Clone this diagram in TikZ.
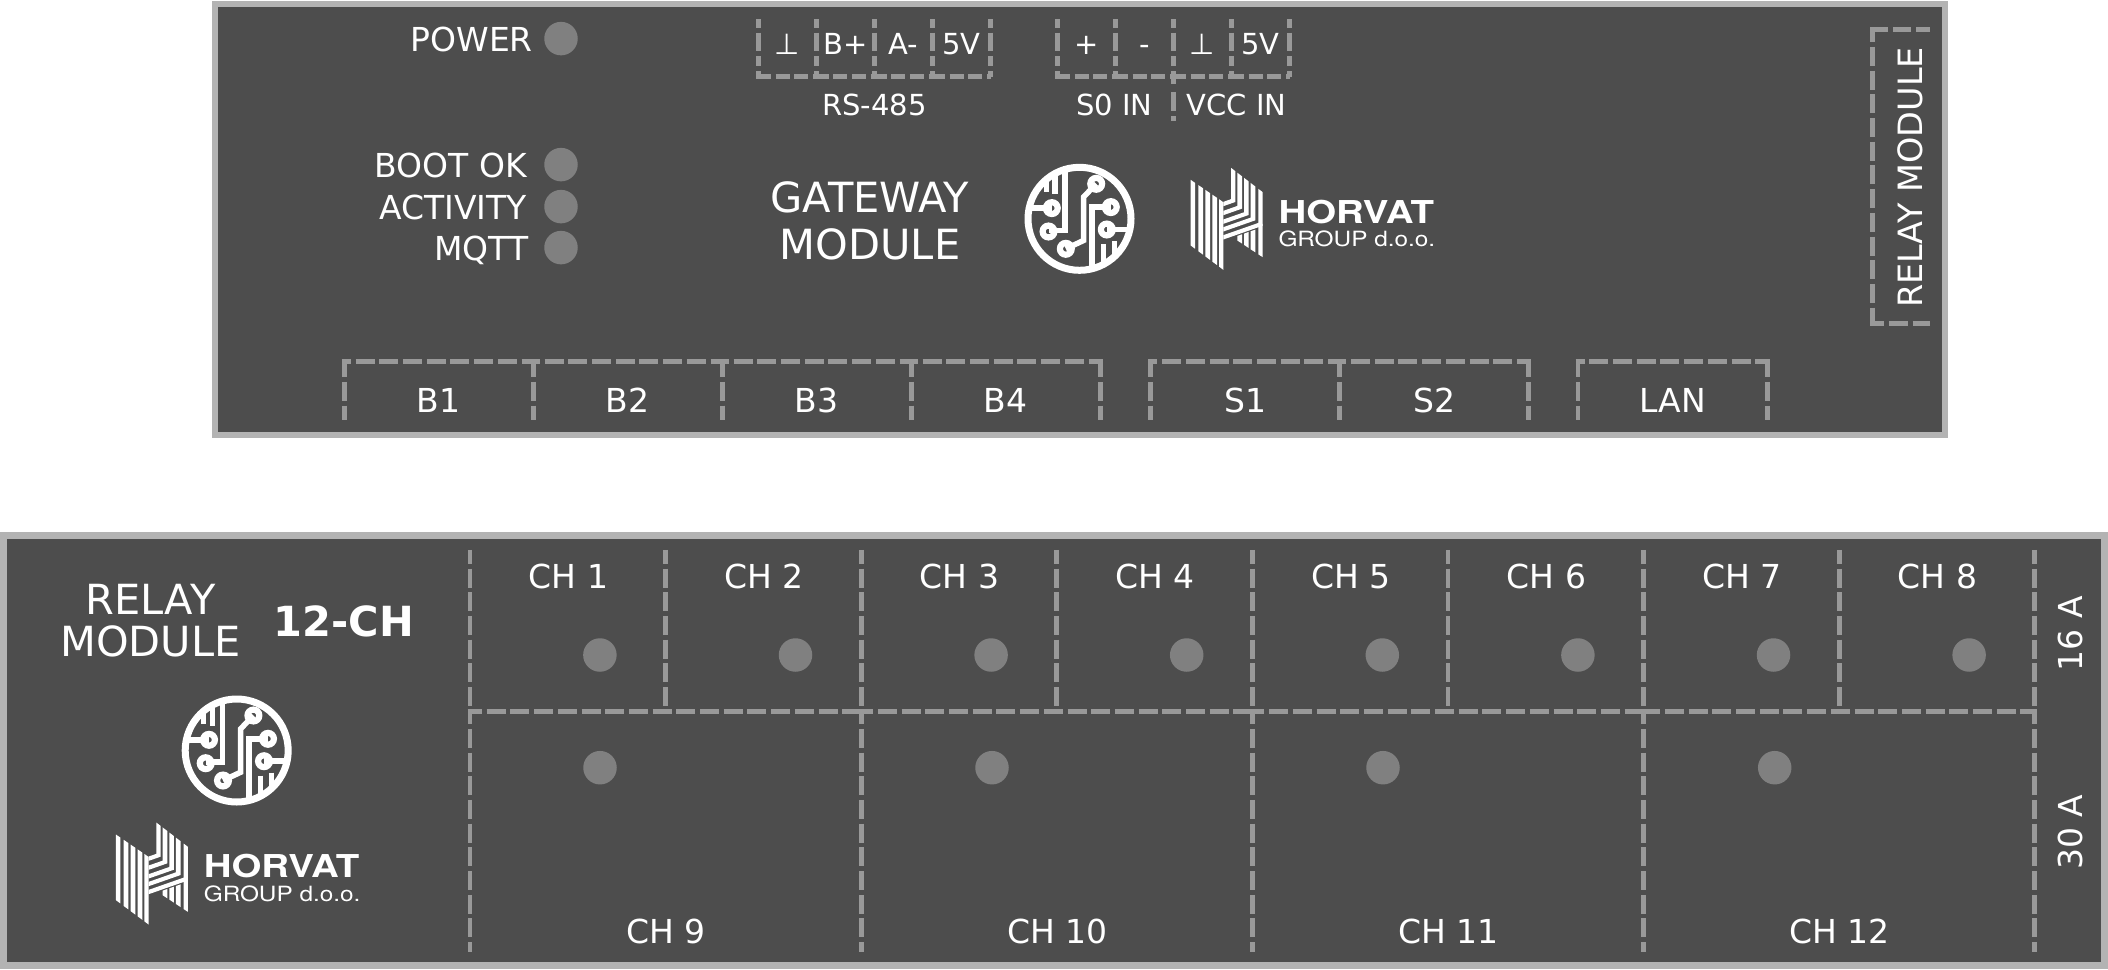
\documentclass[tikz,border=0pt]{standalone}
\usepackage{fontspec}
\setmainfont{DejaVu Sans}
\newfontfamily\heros{TeX Gyre Heros}
\definecolor{panel}{HTML}{4D4D4D}
\definecolor{rim}{HTML}{B3B3B3}
\definecolor{dashc}{HTML}{999999}
\definecolor{led}{HTML}{808080}
\newcommand{\fs}[1]{\fontsize{#1}{#1}\selectfont}
\tikzset{
  panelbox/.style={draw=rim,fill=panel,line width=6pt},
  dline/.style={draw=dashc,line width=4.7pt,dash pattern=on 19pt off 4.7pt},
  termv/.style={draw=dashc,line width=4.7pt,dash pattern=on 8.7pt off 5pt on 18.3pt off 5pt on 10pt off 5pt on 12pt off 50pt},
  termh/.style={draw=dashc,line width=4.7pt,dash pattern=on 14.6pt off 4.7pt on 14pt off 4.7pt on 14pt off 4.7pt on 4pt off 50pt},
  ledc/.style={circle,fill=led,inner sep=0pt,minimum size=33.5pt},
  lab/.style={text=white,inner sep=0pt,anchor=base,font=\fs{33}},
  smalllab/.style={lab,font=\fs{29}},
  rlab/.style={lab,anchor=base east},
  vlab/.style={lab,rotate=90},
  trace/.style={draw=white,line width=5.5pt},
  pcblogo/.pic={
    \draw[white,line width=7pt] (0,0) circle (51.5);
    \foreach \p in {(16.7,-35),(-27.7,-10.7),(-31,12.7),(-13.7,30),(31.3,-11.7),(27.3,10.7)}
      \draw[white,line width=6.2pt] \p circle (5.9);
    \draw[trace] (16.7,-35) -- (4,-21.7) -- (4,21.7) -- (-13.7,30);
    \draw[trace] (-27.7,-10.7) -- (-50,-10.7);
    \draw[trace] (-14.3,-48) -- (-14.3,11.7) -- (-31,11.7);
    \draw[trace] (-24.3,-44) -- (-24.3,-25);
    \draw[trace] (-33,-38) -- (-33,-27);
    \draw[trace] (31.3,-11.7) -- (12.3,-11.7) -- (12.3,50);
    \draw[trace] (27.3,10.7) -- (50,10.7);
    \draw[trace] (24,25) -- (24,43);
    \draw[trace] (35,22) -- (35,37);
  },
  hlogo/.pic={
    \foreach \a/\b in {572/585,595/609,616/630,637/651,657/670}
      \fill[white] (\a,{118+(\a-572)*.684}) -- (\b,{118+(\b-572)*.684}) -- (\b,{315+(\b-572)*.745}) -- (\a,{315+(\a-572)*.745}) -- cycle;
    \foreach \a/\b/\l in {693/706/197,712/726/224,732/746/250,752/766/273,775/788/297}
      \fill[white] (\a,{82+(\a-693)*.768}) -- (\b,{82+(\b-693)*.768})
        -- (\b,{\l-(\b-670)*.35}) -- (670,\l) -- (670,\l-13) -- (\a,{\l-13-(\a-670)*.35}) -- cycle;
    \foreach \a/\b in {712/726,732/746,752/766}
      \fill[white] (\a,{301-(\a-670)*.35}) -- (\b,{301-(\b-670)*.35}) -- (\b,{300+(\b-712)*.66}) -- (\a,{300+(\a-712)*.66}) -- cycle;
    \fill[white] (775,250) -- (788,250) -- (788,350) -- (775,{300+(775-712)*.66}) -- cycle;
  }
}
\begin{document}
\begin{tikzpicture}[x=1pt,y=-1pt]
\useasboundingbox (0,0) rectangle (2108,969);
\begin{scope}[yshift=-1pt]
% ---------- gateway panel
\draw[panelbox] (215,2.5) rectangle (1945,434);
\node[rlab] (power) at (533,50) {POWER};
\node[rlab] (boot) at (527,176) {BOOT OK};
\node[rlab] (act) at (527,218) {ACTIVITY};
\node[rlab] (mqtt) at (528.5,259) {MQTT};
\foreach \n/\y in {a/37.6,b/163.6,c/205.6,d/246.6}
  \node[ledc] (led\n) at (561,\y) {};
% RS-485 and S0/VCC terminals
\foreach \x in {758.7,816.3,874.3,932.5,990.7,1057.7,1115.7,1173.7,1231.7,1289.3}
  \draw[termv] (\x,18) -- (\x,75.7);
\foreach \a/\b in {756.4/816.3,814/874.3,872/932.5,930.2/993,1055.4/1115.7,1113.4/1173.7,1171.4/1231.7,1229.4/1291.6}
  \draw[termh] (\a,75.7) -- (\b,75.7);
\draw[draw=dashc,line width=4.7pt,dash pattern=on 8pt off 8pt on 19pt off 5pt on 5pt] (1173.7,75) -- (1173.7,120);
\foreach \t/\x/\n in {⊥/787/r1,B+/845.5/r2,A-/903.5/r3,5V/961.5/r4,+/1086.5/s1,-/1144.5/s2,⊥/1202.5/v1,5V/1260.5/v2}
  \node[smalllab] (\n) at (\x,53) {\t};
\node[smalllab] (rs) at (874.5,114) {RS-485};
\node[smalllab] (s0) at (1114.3,114) {S0 IN};
\node[smalllab] (vcc) at (1236.8,114) {VCC IN};
\node[lab,font=\fs{41.6}] (gw1) at (870,211) {GATEWAY};
\node[lab,font=\fs{41.6}] (gw2) at (870,258) {MODULE};
\pic at (1079.5,217.8) {pcblogo};
\pic[scale=1/3] at (1000,139.5) {hlogo};
\node[lab,anchor=base west,font=\fs{31.5}\heros\bfseries] (hv1) at (1278.3,222) {\scalebox{1.22}[1]{HORVAT}};
\node[lab,anchor=base west,font=\fs{21}\heros] (hg1) at (1278.3,245.5) {\scalebox{1.16}[1]{GROUP d.o.o.}};
% relay stub
\draw[dline,dash pattern=on 14pt off 5pt on 18.3pt off 5pt on 18pt off 9pt] (1930,28.8) -- (1870,28.8);
\draw[dline,dash phase=4.3pt] (1872.3,26.5) -- (1872.3,325.1);
\draw[dline,dash phase=4.9pt] (1870,322.8) -- (1930,322.8);
\node[vlab,font=\fs{33.5}] (rm) at (1922.3,176.5) {RELAY MODULE};
% bottom connectors
\foreach \a/\b in {344.3/533.3,533.3/722.3,722.3/911.3,911.3/1100.3,1150.8/1339.7,1339.7/1528.6,1578/1767.5}{
  \draw[dline,dash phase=10pt] ({\a-2.35},360.5) -- ({\b+2.35},360.5);
  \draw[dline,dash phase=1pt] (\a,358.15) -- (\a,418.5);
  \draw[dline,dash phase=1pt] (\b,358.15) -- (\b,418.5);
}
\foreach \t/\x in {B1/438.5,B2/627.5,B3/816.5,B4/1005.5,S1/1245,S2/1434,LAN/1673}
  \node[lab] (p\t) at (\x,411) {\t};
% ---------- relay panel
\draw[panelbox,line width=7pt] (3.5,534.7) rectangle (2104.5,964.3);
\node[lab,font=\fs{41.5}] (rl1) at (150.5,613) {RELAY};
\node[lab,font=\fs{41.5}] (rl2) at (150.5,655) {MODULE};
\node[lab,font=\fs{41.5}\bfseries] (ch12) at (344,635) {12-CH};
\pic at (236.7,749.5) {pcblogo};
\pic[scale=1/3] at (-74.7,794.2) {hlogo};
\node[lab,anchor=base west,font=\fs{31.5}\heros\bfseries] (hv2) at (203.6,876.9) {\scalebox{1.22}[1]{HORVAT}};
\node[lab,anchor=base west,font=\fs{21}\heros] (hg2) at (203.6,900.2) {\scalebox{1.16}[1]{GROUP d.o.o.}};
\foreach \i in {0,...,8}
  \draw[dline,dash phase=5pt] ({470+195.6*\i},548.8) -- ({470+195.6*\i},705.5);
\foreach \i in {0,2,4,6,8}
  \draw[dline,dash phase=4pt] ({470+195.6*\i},708.15) -- ({470+195.6*\i},950.5);
\foreach \a/\b/\p in {470/861.2/4.65,861.2/1252.4/4.65,1252.4/1643.6/4.65,1643.6/2034.8/0}
  \draw[dline,dash phase=\p pt] ({\a-2.35},710.5) -- ({\b+2.35},710.5);
\foreach \i in {1,...,8}{
  \node[lab] (ch\i) at ({372.8+195.6*\i},587) {CH \i};
  \node[ledc] (lu\i) at ({404.3+195.6*\i},654) {};
}
\foreach \i/\x in {9/666,10/1057.4,11/1448.6,12/1839.8}
  \node[lab] (ch\i) at (\x,942.5) {CH \i};
\foreach \i/\x in {1/600,2/992,3/1383,4/1774.7}
  \node[ledc] (ll\i) at (\x,766.7) {};
\node[vlab] (a16) at (2082.3,632.5) {16 A};
\node[vlab] (a30) at (2082.3,831) {30 A};
\end{scope}
\end{tikzpicture}
\end{document}
